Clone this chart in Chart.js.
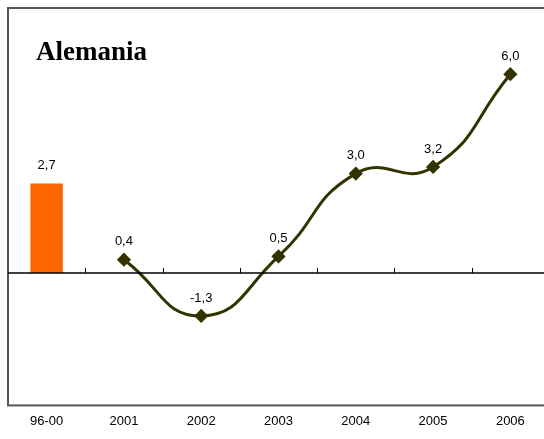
<!DOCTYPE html>
<html>
<head>
<meta charset="utf-8">
<script src="https://cdn.jsdelivr.net/npm/chart.js@4"></script>
<style>
  html, body { margin: 0; padding: 0; background: #fff; overflow: hidden; }
  #wrap { position: absolute; left: 0; top: 0; width: 560px; height: 439px; }
</style>
</head>
<body>
<div id="wrap"><canvas id="grafico"></canvas></div>
<script>
// datos
const categorias = ['96-00', '2001', '2002', '2003', '2004', '2005', '2006'];
const valoresBarra = [2.7, null, null, null, null, null, null];
const valoresLinea = [null, 0.4, -1.3, 0.5, 3.0, 3.2, 6.0];
const titulo = 'Alemania';

const fmt = v => v.toFixed(1).replace('.', ',');

// marco, linea del cero, marcas y etiquetas
const adornos = {
  id: 'adornos',
  beforeDatasetsDraw(chart) {
    const { ctx, chartArea: a } = chart;
    ctx.save();
    ctx.strokeStyle = '#555';
    ctx.lineWidth = 2;
    ctx.strokeRect(a.left, a.top, a.right - a.left, a.bottom - a.top);
    ctx.restore();
  },
  afterDatasetsDraw(chart) {
    const { ctx, chartArea: a, scales: { x, y } } = chart;
    const y0 = y.getPixelForValue(0);
    ctx.save();
    ctx.strokeStyle = '#000';
    ctx.lineWidth = 1.5;
    ctx.beginPath();
    ctx.moveTo(a.left, y0);
    ctx.lineTo(a.right, y0);
    ctx.stroke();
    ctx.lineWidth = 1;
    for (let i = 1; i < categorias.length; i++) {
      const xm = Math.round((x.getPixelForValue(i - 1) + x.getPixelForValue(i)) / 2) + 0.5;
      ctx.beginPath();
      ctx.moveTo(xm, y0);
      ctx.lineTo(xm, y0 - 5);
      ctx.stroke();
    }
    // etiquetas de valores
    ctx.fillStyle = '#000';
    ctx.font = '13px "Liberation Sans", Arial, sans-serif';
    ctx.textAlign = 'center';
    ctx.textBaseline = 'middle';
    chart.data.datasets.forEach((ds, di) => {
      const meta = chart.getDatasetMeta(di);
      ds.data.forEach((v, i) => {
        if (v === null) return;
        const el = meta.data[i];
        ctx.fillText(fmt(v), el.x, el.y - 18);
      });
    });
    // titulo
    ctx.font = 'bold 27px "Liberation Serif", "DejaVu Serif", serif';
    ctx.textAlign = 'left';
    ctx.textBaseline = 'alphabetic';
    ctx.fillText(titulo, 36, 60);
    ctx.restore();
  }
};

new Chart(document.getElementById('grafico'), {
  data: {
    labels: categorias,
    datasets: [
      {
        type: 'line',
        data: valoresLinea,
        borderColor: '#333300',
        backgroundColor: '#333300',
        borderWidth: 3,
        tension: 0.5,
        pointStyle: 'rectRot',
        pointRadius: 5,
        pointBackgroundColor: '#333300',
        pointBorderColor: '#333300',
        order: 1
      },
      {
        type: 'bar',
        data: valoresBarra,
        backgroundColor: '#ff6600',
        barPercentage: 0.42,
        categoryPercentage: 1,
        order: 2
      }
    ]
  },
  options: {
    responsive: true,
    maintainAspectRatio: false,
    animation: false,
    layout: { padding: { left: 6, right: 11, top: 8, bottom: 2 } },
    plugins: { legend: { display: false }, tooltip: { enabled: false } },
    scales: {
      x: {
        offset: true,
        grid: { display: false, drawTicks: false },
        border: { display: false },
        ticks: {
          color: '#000',
          font: { family: '"Liberation Sans", Arial, sans-serif', size: 13 },
          padding: 8,
          maxRotation: 0
        }
      },
      y: {
        display: false,
        min: -4,
        max: 8
      }
    }
  },
  plugins: [adornos]
});
</script>
</body>
</html>
